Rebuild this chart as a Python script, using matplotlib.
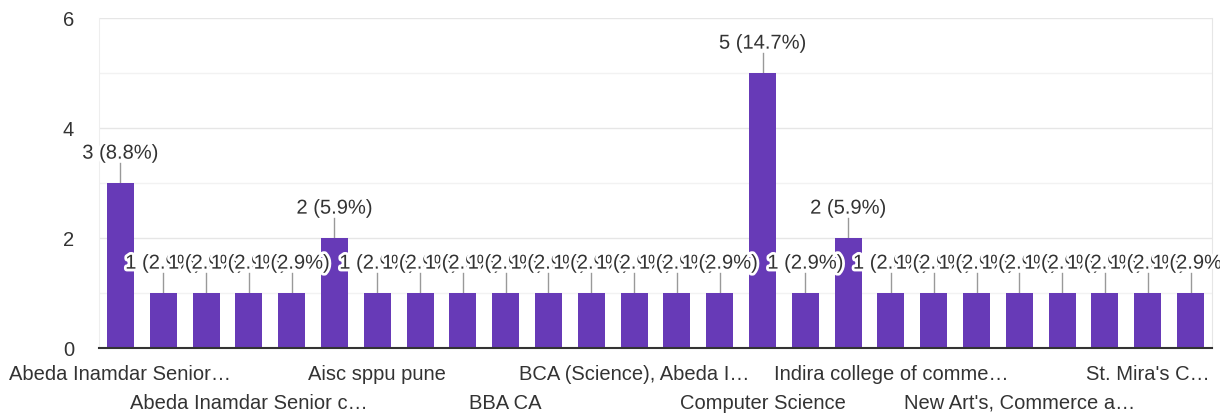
import matplotlib.pyplot as plt
import matplotlib.patheffects as pe
import numpy as np

# ── Datos ──
categorias = [
    "Abeda Inamdar Senior…", "", "", "Abeda Inamdar Senior c…", "", "",
    "Aisc sppu pune", "", "", "BBA CA", "", "",
    "BCA (Science), Abeda I…", "", "", "Computer Science", "", "",
    "Indira college of comme…", "", "", "New Art's, Commerce a…", "", "",
    "St. Mira's C…", "",
]
valores = [3, 1, 1, 1, 1, 2, 1, 1, 1, 1, 1, 1, 1, 1, 1, 5, 1, 2, 1, 1, 1, 1, 1, 1, 1, 1]
total = sum(valores)

MORADO = "#673AB7"
TEXTO = "#333333"
FS = 14.5
plt.rcParams["font.family"] = ["Liberation Sans", "DejaVu Sans"]

fig = plt.figure(figsize=(12.2, 4.16), dpi=100)
ax = fig.add_axes([99 / 1220, 68 / 416, 1113 / 1220, 330 / 416])

x = np.arange(len(valores))
ax.bar(x, valores, width=0.63, color=MORADO, zorder=3)

# etiquetas con linea guia
for i, v in enumerate(valores):
    ax.plot([i, i], [v, v + 0.36], color="#999999", lw=1, zorder=2)
    ax.text(i, v + 0.37, f"{v} ({v / total * 100:.1f}%)", ha="center", va="bottom",
            fontsize=FS, color=TEXTO, zorder=4,
            path_effects=[pe.withStroke(linewidth=4, foreground="white")])

ax.set_xlim(-0.5, len(valores) - 0.5)
ax.set_ylim(0, 6)
ax.set_yticks([0, 2, 4, 6])
ax.set_yticks([1, 3, 5], minor=True)
ax.yaxis.set_tick_params(which="minor", labelleft=False)
ax.grid(axis="y", which="major", color="#e6e6e6", lw=1, zorder=0)
ax.grid(axis="y", which="minor", color="#f2f2f2", lw=1, zorder=0)
ax.tick_params(axis="y", which="both", length=0, pad=18, labelsize=FS, labelcolor=TEXTO)

# etiquetas del eje x en dos filas alternas
fila1 = list(range(0, len(valores), 6))
fila2 = list(range(3, len(valores), 6))
ax.set_xticks(fila1)
ax.set_xticklabels([categorias[i] for i in fila1], fontsize=FS, color=TEXTO)
ax.set_xticks(fila2, minor=True)
ax.set_xticklabels([categorias[i] for i in fila2], minor=True, fontsize=FS, color=TEXTO)
ax.tick_params(axis="x", which="major", length=0, pad=12)
ax.tick_params(axis="x", which="minor", length=0, pad=33)

ax.spines["top"].set_visible(False)
ax.spines["left"].set_color("#eeeeee")
ax.spines["right"].set_color("#e6e6e6")
ax.spines["bottom"].set_color("#333333")
ax.spines["bottom"].set_linewidth(1.5)
ax.spines["bottom"].set_zorder(5)

plt.savefig("out.png", dpi=100)
